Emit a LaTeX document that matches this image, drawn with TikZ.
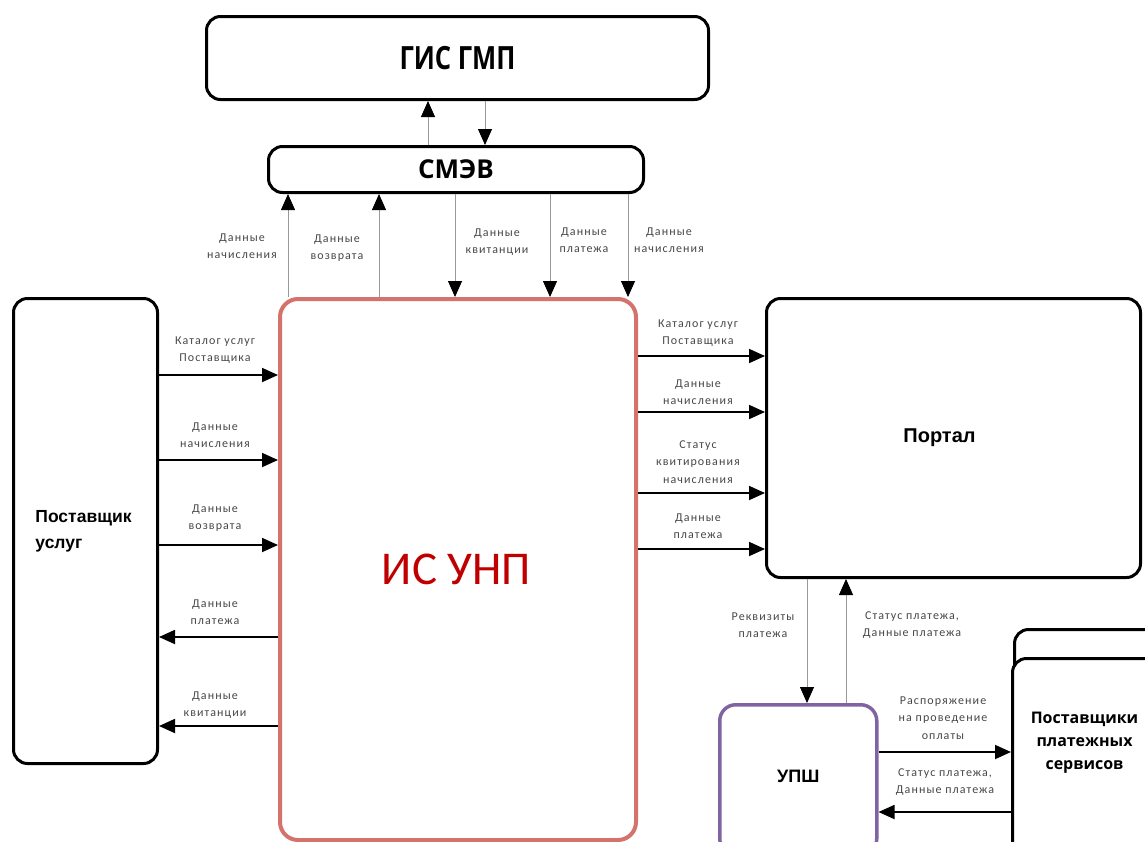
\documentclass[tikz,border=0pt]{standalone}
\usepackage{fontspec}
\setmainfont{Carlito}
\newfontfamily\lblfont[LetterSpace=9]{Carlito}
\newfontfamily\titlefont{Carlito}
\newfontfamily\arialf{Liberation Sans}
\newfontfamily\osans{Open Sans}
\usetikzlibrary{arrows.meta,calc}
\definecolor{redbox}{HTML}{D4736C}
\definecolor{purplebox}{HTML}{8064A2}
\definecolor{titlered}{HTML}{C00000}
\begin{document}
\begin{tikzpicture}[x=1pt,y=-1pt,
  box/.style={draw=black, line width=3pt, rounded corners=14pt, fill=white, inner sep=0pt, anchor=north west},
  lbl/.style={font=\lblfont\fontsize{12}{17.5}\selectfont, text=black!72, align=center, inner sep=0pt},
  tip/.style={-{Triangle[length=16pt,width=14pt,color=black]}},
  thinarr/.style={draw=black!40, line width=0.8pt, tip},
  thickarr/.style={draw=black, line width=1.8pt, tip},
]
\useasboundingbox (0,0) rectangle (1145,841);

% boxes
\node[box, minimum width=502pt, minimum height=83pt,
      font=\osans\bfseries\fontsize{32}{34}\selectfont] (gis) at (205,15) {\scalebox{0.8}[1]{ГИС ГМП}};
\node[box, minimum width=375pt, minimum height=46pt,
      font=\osans\bfseries\fontsize{26}{28}\selectfont] (smev) at (267,145) {СМЭВ};
\node[box, draw=redbox, line width=4pt, rounded corners=18pt, minimum width=356pt, minimum height=541pt,
      font=\titlefont\fontsize{47}{52}\selectfont, text=titlered] (isunp) at (278,297) {\hspace*{-3pt}ИС УНП};
\node[box, minimum width=144pt, minimum height=465pt, align=left,
      font=\arialf\bfseries\fontsize{17.5}{26}\selectfont] (pu) at (12,297) {\hspace*{-4pt}Поставщик\\\hspace*{-4pt}услуг};
\node[box, minimum width=374pt, minimum height=279pt,
      font=\arialf\bfseries\fontsize{20}{22}\selectfont] (portal) at (765,297) {\hspace*{-28pt}Портал};
\node[box, draw=purplebox, line width=3.5pt, rounded corners=16pt, minimum width=157pt, minimum height=150pt,
      label={[name=upshtext, font=\arialf\bfseries\fontsize{18}{20}\selectfont, yshift=3pt]center:УПШ}] (upsh) at (718,703) {};
\node[box, minimum width=160pt, minimum height=230pt] (pps2) at (1013,628) {};
\node[box, minimum width=150pt, minimum height=200pt,
      label={[name=ppstext, align=center, font=\osans\bfseries\fontsize{16}{23}\selectfont, yshift=16pt, xshift=-3pt]center:Поставщики\\платежных\\сервисов}] (pps) at (1011,657) {};

% x and y positions of connectors
\coordinate (xg1) at (428,0);
\coordinate (xg2) at (485,0);
\coordinate (xs1) at (288,0);
\coordinate (xs2) at (379,0);
\coordinate (xs3) at (455,0);
\coordinate (xs4) at (550,0);
\coordinate (xs5) at (628,0);
\coordinate (xp1) at (807,0);
\coordinate (xp2) at (846,0);
\coordinate (yl1) at (0,375);
\coordinate (yl2) at (0,460);
\coordinate (yl3) at (0,545);
\coordinate (yl4) at (0,637);
\coordinate (yl5) at (0,726);
\coordinate (yr1) at (0,356);
\coordinate (yr2) at (0,412);
\coordinate (yr3) at (0,493);
\coordinate (yr4) at (0,549);
\coordinate (yu1) at (0,752);
\coordinate (yu2) at (0,812);

% ГИС ГМП <-> СМЭВ
\draw[thinarr] (smev.north -| xg1) -- (gis.south -| xg1);
\draw[thinarr] (gis.south -| xg2) -- (smev.north -| xg2);

% ИС УНП <-> СМЭВ
\draw[thinarr] (isunp.north -| xs1) -- (smev.south -| xs1);
\draw[thinarr] (isunp.north -| xs2) -- (smev.south -| xs2);
\draw[thinarr] (smev.south -| xs3) -- (isunp.north -| xs3);
\draw[thinarr] (smev.south -| xs4) -- (isunp.north -| xs4);
\draw[thinarr] (smev.south -| xs5) -- (isunp.north -| xs5);
\node[lbl] (t1) at (242,246) {Данные\\начисления};
\node[lbl] (t2) at (337,248) {Данные\\возврата};
\node[lbl] (t3) at (497,242) {Данные\\квитанции};
\node[lbl] (t4) at (584,240) {Данные\\платежа};
\node[lbl] (t5) at (669,240) {Данные\\начисления};

% Поставщик услуг <-> ИС УНП
\draw[thickarr] (pu.east |- yl1) -- (isunp.west |- yl1);
\draw[thickarr] (pu.east |- yl2) -- (isunp.west |- yl2);
\draw[thickarr] (pu.east |- yl3) -- (isunp.west |- yl3);
\draw[thickarr] (isunp.west |- yl4) -- (pu.east |- yl4);
\draw[thickarr] (isunp.west |- yl5) -- (pu.east |- yl5);
\node[lbl] (l1) at (215,350) {Каталог услуг\\Поставщика};
\node[lbl] (l2) at (215,435) {Данные\\начисления};
\node[lbl] (l3) at (215,518) {Данные\\возврата};
\node[lbl] (l4) at (215,612) {Данные\\платежа};
\node[lbl] (l5) at (215,705) {Данные\\квитанции};

% ИС УНП -> Портал
\draw[thickarr] (isunp.east |- yr1) -- (portal.west |- yr1);
\draw[thickarr] (isunp.east |- yr2) -- (portal.west |- yr2);
\draw[thickarr] (isunp.east |- yr3) -- (portal.west |- yr3);
\draw[thickarr] (isunp.east |- yr4) -- (portal.west |- yr4);
\node[lbl] (r1) at (698,333) {Каталог услуг\\Поставщика};
\node[lbl] (r2) at (698,392) {Данные\\начисления};
\node[lbl] (r3) at (698,462) {Статус\\квитирования\\начисления};
\node[lbl] (r4) at (698,526) {Данные\\платежа};

% Портал <-> УПШ
\draw[thinarr] (portal.south -| xp1) -- (upsh.north -| xp1);
\draw[thinarr] (upsh.north -| xp2) -- (portal.south -| xp2);
\node[lbl] (p1) at (763,625) {Реквизиты\\платежа};
\node[lbl] (p2) at (912,625) {Статус платежа,\\Данные платежа};

% УПШ <-> Поставщики платежных сервисов
\draw[thickarr] (upsh.east |- yu1) -- (pps.west |- yu1);
\draw[thickarr] (pps.west |- yu2) -- (upsh.east |- yu2);
\node[lbl] (u1) at (943,718) {Распоряжение\\на проведение\\оплаты};
\node[lbl] (u2) at (945,782) {Статус платежа,\\Данные платежа};
\end{tikzpicture}
\end{document}
